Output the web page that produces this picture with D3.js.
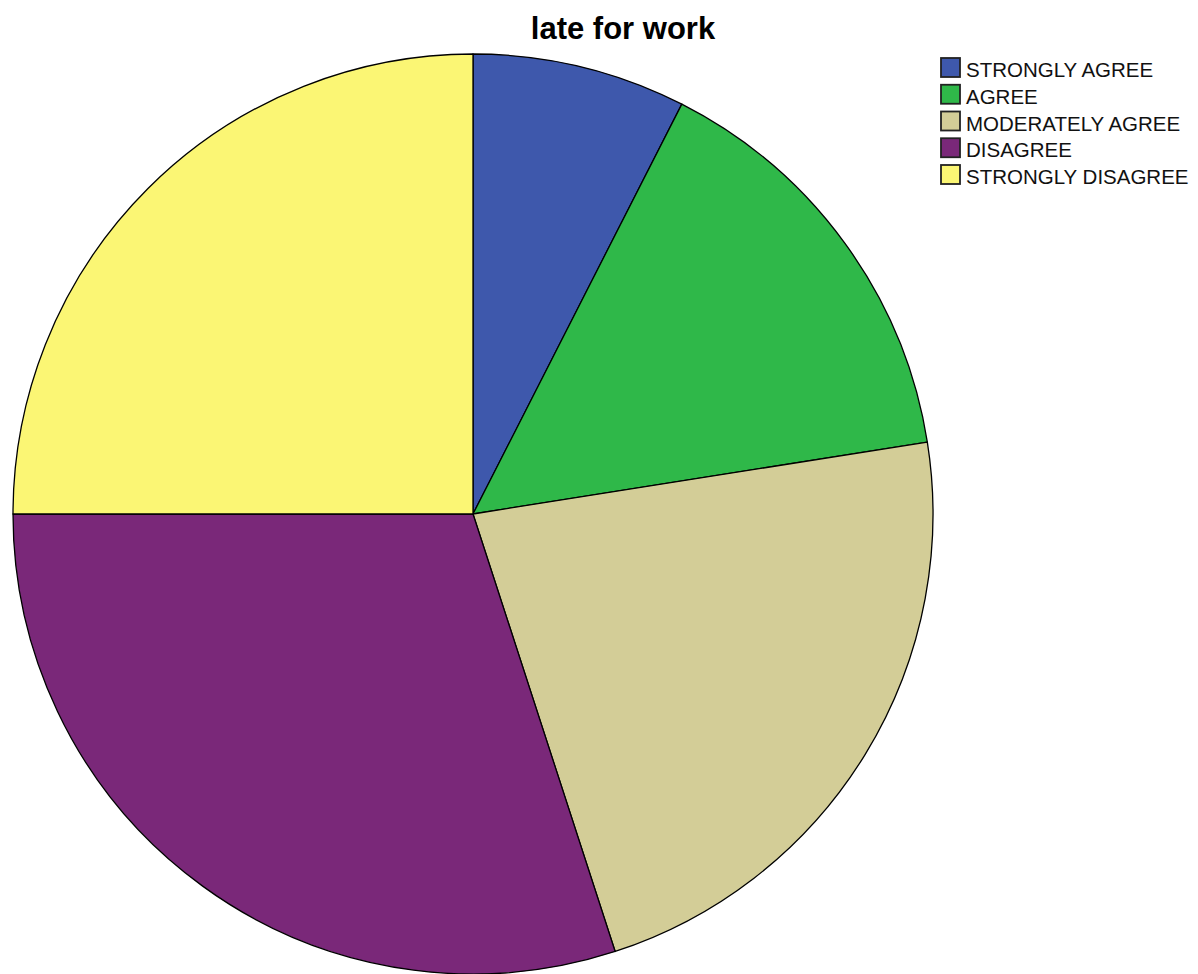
<!DOCTYPE html>
<html>
<head>
<meta charset="utf-8">
<script src="https://cdn.jsdelivr.net/npm/d3@7/dist/d3.min.js"></script>
<style>
  html, body { margin: 0; padding: 0; background: #fff; }
  svg { display: block; }
</style>
</head>
<body>
<svg id="chart" width="1198" height="974"></svg>
<script>
// Responses to "late for work"
const categories = ["STRONGLY AGREE", "AGREE", "MODERATELY AGREE", "DISAGREE", "STRONGLY DISAGREE"];
const counts = [3, 6, 9, 12, 10];
const colors = ["#3e58ac", "#2fb849", "#d3cd97", "#7a2879", "#fbf674"];
const title = "late for work";

const svg = d3.select("#chart");
const cx = 473, cy = 514, radius = 460;

const pie = d3.pie().sort(null).value(d => d.value);
const arc = d3.arc().innerRadius(0).outerRadius(radius);
const color = d3.scaleOrdinal().domain(categories).range(colors);

const data = categories.map((c, i) => ({ name: c, value: counts[i] }));

svg.append("g")
  .attr("transform", `translate(${cx},${cy})`)
  .selectAll("path")
  .data(pie(data))
  .join("path")
  .attr("d", arc)
  .attr("fill", d => color(d.data.name))
  .attr("stroke", "#000")
  .attr("stroke-width", 1.3)
  .attr("stroke-linejoin", "round");

svg.append("text")
  .attr("x", 623)
  .attr("y", 39)
  .attr("text-anchor", "middle")
  .attr("font-family", "Liberation Sans, Arial, sans-serif")
  .attr("font-weight", "bold")
  .attr("font-size", 31)
  .attr("fill", "#000")
  .text(title);

const legend = svg.append("g").attr("transform", "translate(940,57)");
const rowH = 26.75;
const item = legend.selectAll("g")
  .data(categories)
  .join("g")
  .attr("transform", (d, i) => `translate(0,${i * rowH})`);

item.append("rect")
  .attr("x", 1).attr("y", 1)
  .attr("width", 19).attr("height", 19)
  .attr("fill", d => color(d))
  .attr("stroke", "#222")
  .attr("stroke-width", 1.8);

item.append("text")
  .attr("x", 26)
  .attr("y", 20)
  .attr("font-family", "Liberation Sans, Arial, sans-serif")
  .attr("font-size", 20.5)
  .attr("fill", "#111")
  .text(d => d);
</script>
</body>
</html>
